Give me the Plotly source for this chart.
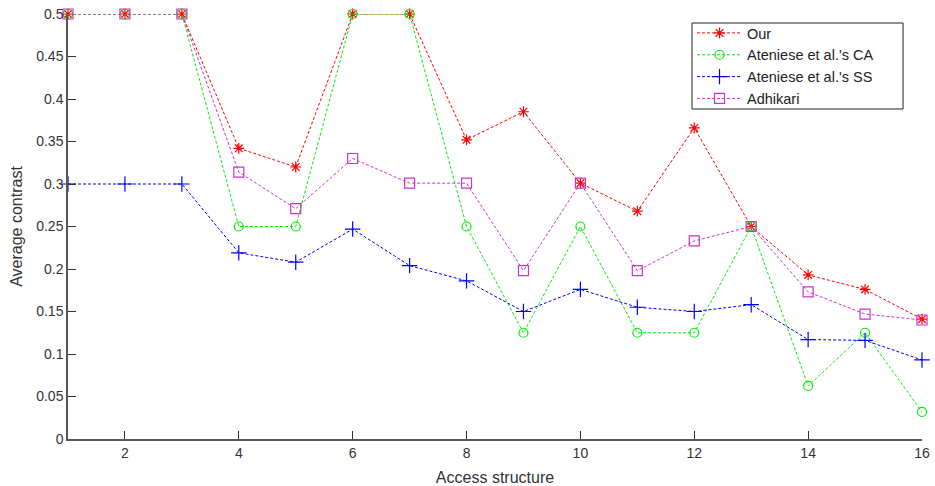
import plotly.graph_objects as go

x = list(range(1, 17))
our = [0.5, 0.5, 0.5, 0.342, 0.32, 0.5, 0.5, 0.352, 0.385, 0.301, 0.268, 0.366, 0.25, 0.193, 0.176, 0.141]
ca = [0.5, 0.5, 0.5, 0.25, 0.25, 0.5, 0.5, 0.25, 0.125, 0.25, 0.125, 0.125, 0.25, 0.0625, 0.125, 0.0318]
ss = [0.3, 0.3, 0.3, 0.219, 0.208, 0.247, 0.204, 0.186, 0.150, 0.176, 0.155, 0.150, 0.158, 0.117, 0.116, 0.093]
adh = [0.5, 0.5, 0.5, 0.314, 0.271, 0.33, 0.301, 0.301, 0.198, 0.301, 0.198, 0.233, 0.25, 0.173, 0.147, 0.14]

names = ["Our", "Ateniese et al.'s CA", "Ateniese et al.'s SS", "Adhikari"]
colors = ["#ff0000", "#00ee00", "#0000ff", "#cc33cc"]
symbols = ["asterisk-open", "circle-open", "cross-thin-open", "square-open"]
sizes = [9, 9, 11, 10]

fig = go.Figure()
for ys, n, c, s, sz in zip([our, ca, ss, adh], names, colors, symbols, sizes):
    fig.add_trace(go.Scatter(
        x=x, y=ys, name=n, mode="lines+markers",
        line=dict(color=c, width=1, dash="3px,2px"),
        marker=dict(symbol=s, size=sz, color=c, line=dict(color=c, width=1.2)),
        cliponaxis=False,
    ))

FONT = "Liberation Sans, Arial"
axis_common = dict(
    showgrid=False, zeroline=False, showline=True, linecolor="#555555", linewidth=1.5,
    ticks="inside", ticklen=8, tickcolor="#333333", tickwidth=1,
    tickfont=dict(family=FONT, size=14, color="#333333"),
    mirror=False, automargin=False,
)
fig.update_xaxes(range=[1, 16], tickvals=[2, 4, 6, 8, 10, 12, 14, 16],
                 title=dict(text="Access structure", font=dict(family=FONT, size=16, color="#333333"), standoff=12),
                 **axis_common)
fig.update_yaxes(range=[0, 0.5], tickvals=[0, 0.05, 0.1, 0.15, 0.2, 0.25, 0.3, 0.35, 0.4, 0.45, 0.5],
                 ticktext=["0", "0.05", "0.1", "0.15", "0.2", "0.25", "0.3", "0.35", "0.4", "0.45", "0.5"],
                 title=dict(text="Average contrast", font=dict(family=FONT, size=16, color="#333333"), standoff=10),
                 **axis_common)

# legend frame
fig.add_shape(type="rect", xref="paper", yref="paper",
              x0=0.7307, x1=0.9778, y0=0.7765, y1=0.9788,
              line=dict(color="#222222", width=1), fillcolor="white", layer="above")

fig.update_layout(
    width=935, height=486,
    margin=dict(l=68, r=13, t=14, b=47),
    plot_bgcolor="white", paper_bgcolor="white",
    legend=dict(x=0.7307, y=0.993, xanchor="left", yanchor="top",
                borderwidth=0, bgcolor="rgba(0,0,0,0)",
                font=dict(family=FONT, size=14.5, color="#222222"),
                tracegroupgap=0, itemwidth=45),
    showlegend=True,
)
fig.write_html("out.html", config={"displayModeBar": False},
               post_script="document.body.style.margin='0px';document.body.style.overflow='hidden';")
